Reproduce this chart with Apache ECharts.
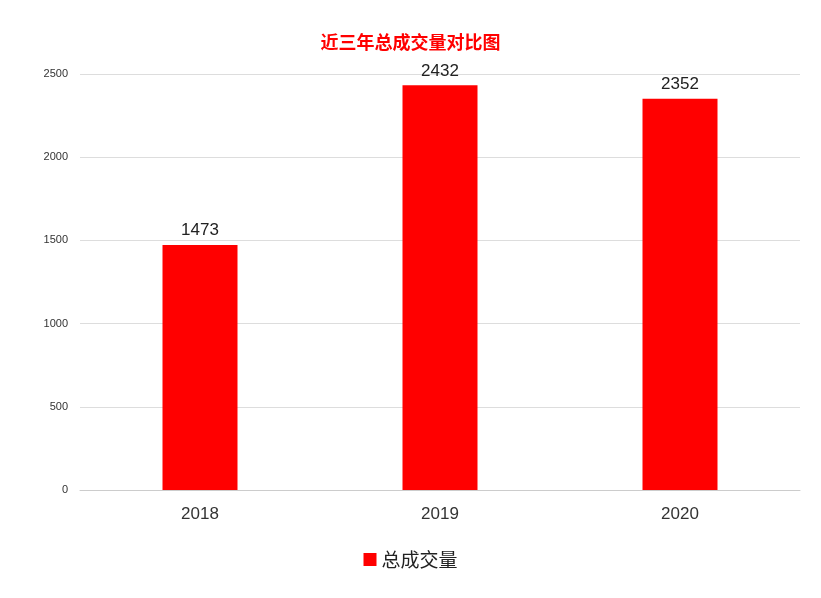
<!DOCTYPE html>
<html><head><meta charset="utf-8">
<script src="https://cdn.jsdelivr.net/npm/echarts@6/dist/echarts.min.js"></script>
<style>html,body{margin:0;padding:0;background:#fff}#c{width:821px;height:598px}</style>
</head><body><div id="c"></div>
<script>
const categories = ['2018','2019','2020'];
const values = [1473, 2432, 2352];
const seriesName = '总成交量';
const chart = echarts.init(document.getElementById('c'));
chart.setOption({
  animation:false,
  title:{text:'近三年总成交量对比图',left:'center',top:28,textStyle:{color:'#ff0000',fontSize:18,fontWeight:'bold',fontFamily:'Noto Sans CJK SC'}},
  grid:{left:80,right:21,top:74,bottom:108},
  legend:{bottom:24,left:'center',itemWidth:13,itemHeight:13,icon:'rect',textStyle:{fontSize:19,color:'#222',fontFamily:'Noto Sans CJK SC'},data:[seriesName]},
  xAxis:{type:'category',data:categories,axisTick:{show:false},axisLine:{lineStyle:{color:'#ccc'}},axisLabel:{fontSize:17,color:'#333',margin:16,fontFamily:'Liberation Sans'}},
  yAxis:{type:'value',min:0,max:2500,interval:500,axisLabel:{fontSize:11,color:'#333',margin:12,formatter:v=>String(v)},splitLine:{lineStyle:{color:'#ddd'}}},
  series:[{name:seriesName,type:'bar',data:values,barWidth:75,itemStyle:{color:'#ff0000'},label:{show:true,position:'top',fontSize:17,color:'#222',distance:6}}]
});
</script></body></html>
